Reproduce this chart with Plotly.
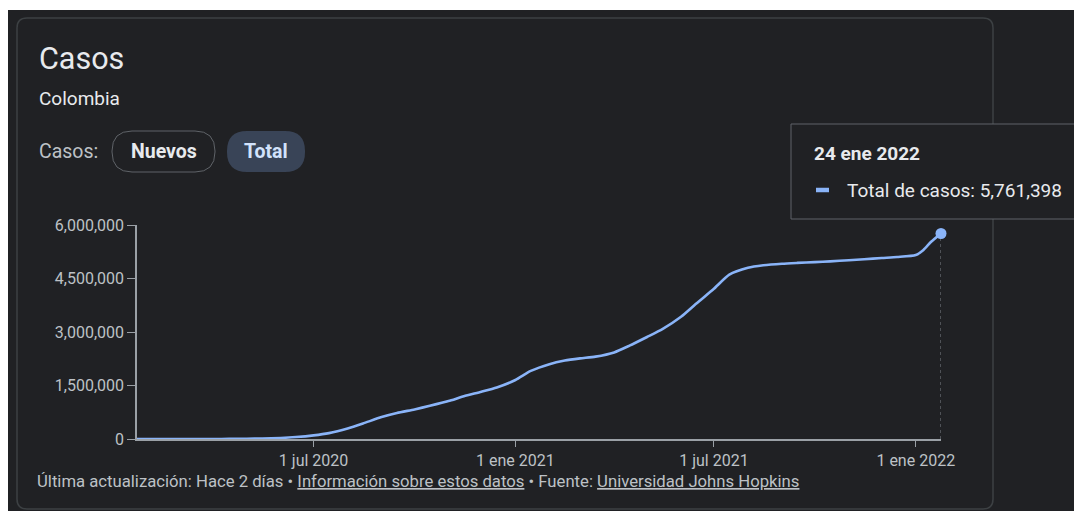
import plotly.graph_objects as go

# ---- data (Colombia cumulative cases) ----
dates = ["2020-01-22", "2020-03-06", "2020-03-15", "2020-04-01", "2020-04-15", "2020-05-01",
         "2020-05-15", "2020-06-01", "2020-06-15", "2020-07-01", "2020-07-15", "2020-08-01",
         "2020-08-15", "2020-09-01", "2020-09-15", "2020-10-01", "2020-10-15", "2020-11-01",
         "2020-11-15", "2020-12-01", "2020-12-15", "2021-01-01", "2021-01-15", "2021-02-01",
         "2021-02-15", "2021-03-01", "2021-03-15", "2021-04-01", "2021-04-15", "2021-05-01",
         "2021-05-15", "2021-06-01", "2021-06-15", "2021-07-01", "2021-07-15", "2021-08-01",
         "2021-08-15", "2021-09-01", "2021-09-15", "2021-10-01", "2021-10-15", "2021-11-01",
         "2021-11-15", "2021-12-01", "2021-12-15", "2022-01-01", "2022-01-08", "2022-01-15",
         "2022-01-24"]
total_cases = [0, 1, 34, 1065, 3105, 6507,
               14216, 29384, 54931, 102009, 165169, 295508,
               433805, 615168, 728590, 829679, 930159, 1063151,
               1198746, 1324792, 1444646, 1654880, 1908413, 2099140,
               2199099, 2260599, 2310000, 2428048, 2617000, 2859724,
               3080000, 3426000, 3800000, 4213000, 4607000, 4800000,
               4870000, 4915000, 4937000, 4959000, 4981000, 5011000,
               5040000, 5075000, 5102000, 5157000, 5300000, 5530000,
               5761398]

y_tickvals = [0, 1500000, 3000000, 4500000, 6000000]
x_tickvals = ["2020-07-01", "2021-01-01", "2021-07-01", "2022-01-01"]
x_ticktext = ["1 jul 2020", "1 ene 2021", "1 jul 2021", "1 ene 2022"]

title = "Casos"
subtitle = "Colombia"
selector_label = "Casos:"
buttons = ["Nuevos", "Total"]
tooltip_date = "24 ene 2022"
tooltip_label = "Total de casos"

# ---- layout geometry (page pixels; the page body adds an 8px offset) ----
OFF = 8
W, H = 1082 - OFF, 511 - OFF
L, R, T, B = 137 - OFF, 941 - OFF, 225 - OFF, 439 - OFF
BG = "#202124"
LINE = "#8ab4f8"
FONT = "Roboto"


def px(x):  # page x -> paper
    return (x - OFF - L) / (R - L)


def py(y):  # page y -> paper
    return (B - (y - OFF)) / (B - T)


def rounded_rect(x0, y0, x1, y1, r):
    rx = r / (R - L)
    ry = r / (B - T)
    a, b, c, d = px(x0), py(y0), px(x1), py(y1)
    return (f"M {a+rx},{b} L {c-rx},{b} Q {c},{b} {c},{b-ry} L {c},{d+ry} "
            f"Q {c},{d} {c-rx},{d} L {a+rx},{d} Q {a},{d} {a},{d+ry} "
            f"L {a},{b-ry} Q {a},{b} {a+rx},{b} Z")


fig = go.Figure()
fig.add_trace(go.Scatter(x=dates, y=total_cases, mode="lines",
                         line=dict(color=LINE, width=2.6, shape="spline", smoothing=0.6),
                         hoverinfo="skip"))
fig.add_trace(go.Scatter(x=[dates[-1]], y=[total_cases[-1]], mode="markers",
                         marker=dict(color=LINE, size=11), hoverinfo="skip", cliponaxis=False))

shapes = []
# thin white strip at very top (reference shows ~10px white)
shapes.append(dict(type="rect", xref="paper", yref="paper", x0=px(0), x1=px(1100),
                   y0=py(10), y1=py(0), fillcolor="white", line=dict(width=0), layer="below"))
# card
shapes.append(dict(type="path", xref="paper", yref="paper",
                   path=rounded_rect(17, 18, 993, 509, 10),
                   fillcolor=BG, line=dict(color="#3c4043", width=1.5), layer="below"))
# pills
shapes.append(dict(type="path", xref="paper", yref="paper",
                   path=rounded_rect(112, 131, 215, 172, 20),
                   fillcolor=BG, line=dict(color="#5f6368", width=1)))
shapes.append(dict(type="path", xref="paper", yref="paper",
                   path=rounded_rect(227, 131, 305, 172, 20),
                   fillcolor="#394457", line=dict(width=0)))
# dotted guide line at the last point
shapes.append(dict(type="line", xref="x", yref="y", x0=dates[-1], x1=dates[-1],
                   y0=0, y1=total_cases[-1], line=dict(color="#5f6368", width=1.5, dash="dot"),
                   layer="below"))
# tooltip
shapes.append(dict(type="rect", xref="paper", yref="paper", x0=px(791), x1=px(1100),
                   y0=py(219), y1=py(124), fillcolor=BG, line=dict(color="#5f6368", width=1)))
shapes.append(dict(type="line", xref="paper", yref="paper", x0=px(816), x1=px(829),
                   y0=py(190), y1=py(190), line=dict(color=LINE, width=4.5)))

ann = []


def text(x, y, s, size, color, anchor="left", bold=False):
    ann.append(dict(xref="paper", yref="paper", x=px(x), y=py(y), text=(f"<b>{s}</b>" if bold else s),
                    showarrow=False, xanchor=anchor, yanchor="middle",
                    font=dict(family=FONT, size=size, color=color)))


text(37, 58, title, 30.5, "#e8eaed")
text(37, 98, subtitle, 19, "#e8eaed")
text(37, 151, selector_label, 19.5, "#bdc1c6")
text(164, 151, buttons[0], 19.5, "#e8eaed", anchor="center", bold=True)
text(266, 151, buttons[1], 19.5, "#d2e3fc", anchor="center", bold=True)
text(812, 153, tooltip_date, 19, "#e8eaed", bold=True)
text(845, 190, f"{tooltip_label}: {total_cases[-1]:,}", 19, "#e8eaed")
u = "text-decoration:underline"
text(35, 481,
     "Última actualización: Hace 2 días • "
     f"<span style='{u}'>Información sobre estos datos</span> • Fuente: "
     f"<span style='{u}'>Universidad Johns Hopkins</span>", 16.7, "#bdc1c6")

fig.update_layout(
    width=W, height=H,
    margin=dict(l=L, r=W - R, t=T, b=H - B, pad=0),
    paper_bgcolor=BG, plot_bgcolor=BG,
    showlegend=False,
    shapes=shapes, annotations=ann,
    font=dict(family=FONT, color="#bdc1c6", size=16),
    xaxis=dict(type="date", range=[dates[0], dates[-1]], tickvals=x_tickvals, ticktext=x_ticktext,
               showgrid=False, zeroline=False, showline=True, linecolor="#9aa0a6", linewidth=1.5,
               ticks="outside", ticklen=6, tickcolor="#9aa0a6", tickfont=dict(size=16, color="#bdc1c6"),
               fixedrange=True),
    yaxis=dict(range=[0, 6000000], tickvals=y_tickvals, tickformat=",d",
               showgrid=False, zeroline=False, showline=True, linecolor="#9aa0a6", linewidth=1.5,
               ticks="outside", ticklen=8, tickcolor="#9aa0a6", tickfont=dict(size=16, color="#bdc1c6"),
               fixedrange=True),
)

fig.write_html("out.html")
